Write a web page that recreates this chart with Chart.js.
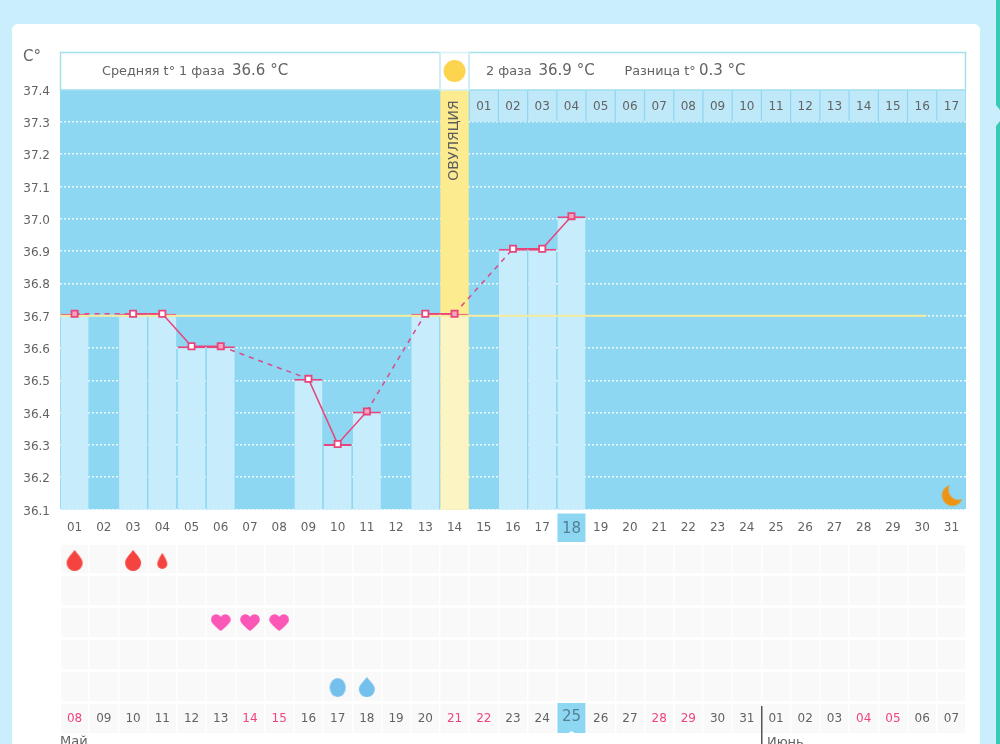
<!DOCTYPE html>
<html lang="ru">
<head>
<meta charset="utf-8">
<title>График БТ</title>
<script src="https://cdn.jsdelivr.net/npm/chart.js@4/dist/chart.umd.min.js"></script>
<style>
html, body { margin: 0; height: 744px; overflow: hidden; background: #cbeefc; }
#card { position: absolute; left: 12px; top: 24px; width: 968px; height: 740px; background: #fff; border-radius: 6px; }
#side { position: absolute; left: 996px; top: 0; width: 4px; height: 744px; background: #35cbb6;
  clip-path: polygon(0 0, 4px 0, 4px 110px, 0 105px, 0 126px, 4px 121px, 4px 744px, 0 744px); }
#tempChart { position: absolute; left: 0; top: 0; }
#marksChart { position: absolute; left: 0; top: 540px; }
</style>
</head>
<body>
<div id="card"></div>
<div id="side"></div>
<canvas id="tempChart" width="1000" height="545"></canvas>
<canvas id="marksChart" width="1000" height="204"></canvas>
<script>
// cycle days, chart 1
const cycleDays = ['01','02','03','04','05','06','07','08','09','10','11','12','13','14','15','16','17','18','19','20','21','22','23','24','25','26','27','28','29','30','31'];
const temps = [36.7,null,36.7,36.7,36.6,36.6,null,null,36.5,36.3,36.4,null,36.7,36.7,null,36.9,36.9,37.0,null,null,null,null,null,null,null,null,null,null,null,null,null];
const coverLineX = [-0.5, 29.15];
const coverLineTemp = 36.7;
const ovulationDay = '14';
const todayDay = '18';
const phaseDays = ['01','02','03','04','05','06','07','08','09','10','11','12','13','14','15','16','17'];
const yTicks = [36.1,36.2,36.3,36.4,36.5,36.6,36.7,36.8,36.9,37.0,37.1,37.2,37.3,37.4];
const softMarkerDays = ['01','06','11','14','18'];

// calendar dates and symptom rows, chart 2
const calendarDates = ['08','09','10','11','12','13','14','15','16','17','18','19','20','21','22','23','24','25','26','27','28','29','30','31','01','02','03','04','05','06','07'];
const weekendDates = ['08','14','15','21','22','28','29','04','05'];
const todayDate = '25';
const monthNames = ['Май','Июнь'];
const monthStarts = ['08','01'];
const symptomRows = ['bleeding','row2','sex','row4','mucus'];
const bigBleedDates = ['08','10'];
const smallBleedDates = ['11'];
const sexDates = ['13','14','15'];
const blobDates = ['17'];
const mucusDates = ['18'];

const BLUE = '#8dd7f3', PALE = '#c7ecfb', PINK = '#e8457c', TEXT = '#636363', TODAY = '#557f93';
const FONT = '"DejaVu Sans", sans-serif';

Chart.defaults.font.family = FONT;
Chart.defaults.animation = false;
Chart.defaults.responsive = false;
Chart.defaults.plugins.legend.display = false;
Chart.defaults.plugins.tooltip.enabled = false;

function txt(c, s, x, y, size, color, align) {
  c.font = size + 'px ' + FONT;
  c.fillStyle = color || TEXT;
  c.textAlign = align || 'left';
  c.textBaseline = 'middle';
  c.fillText(s, x, y);
}

function makeIcon(w, h, color, draw) {
  const cv = document.createElement('canvas');
  cv.width = w;
  cv.height = h;
  const c = cv.getContext('2d');
  c.fillStyle = color;
  c.beginPath();
  draw(c);
  c.fill();
  return cv;
}

function dropPath(c, cx, t, b, r) {
  const m = t + (b - t) * 0.25;
  c.moveTo(cx, t);
  c.bezierCurveTo(cx + r * 0.5, m, cx + r, b - r * 1.5, cx + r, b - r);
  c.arc(cx, b - r, r, 0, Math.PI);
  c.bezierCurveTo(cx - r, b - r * 1.5, cx - r * 0.5, m, cx, t);
}

const bigDrop = makeIcon(18, 24, '#f5433f', c => dropPath(c, 9, 3, 24, 8));
const smallDrop = makeIcon(12, 20, '#f5433f', c => dropPath(c, 6, 4, 20, 5));
const blueDrop = makeIcon(18, 22, '#74c0ec', c => dropPath(c, 9, 2, 22, 8));
const blueBlob = makeIcon(18, 22, '#74c0ec', c => c.ellipse(9, 12.5, 8, 9.5, 0, 0, Math.PI * 2));
const heart = makeIcon(20, 17, '#fa57b6', c => {
  c.arc(5.4, 5.4, 5.2, 0, Math.PI * 2);
  c.fill();
  c.beginPath();
  c.arc(14.6, 5.4, 5.2, 0, Math.PI * 2);
  c.fill();
  c.beginPath();
  c.moveTo(0.7, 7.6);
  c.quadraticCurveTo(3.5, 12.5, 10, 17);
  c.quadraticCurveTo(16.5, 12.5, 19.3, 7.6);
  c.lineTo(10, 4);
  c.closePath();
});
const moon = (() => {
  const cv = makeIcon(24, 24, '#ef9412', c => c.arc(11, 12, 10.5, 0, Math.PI * 2));
  const c = cv.getContext('2d');
  c.globalCompositeOperation = 'destination-out';
  c.beginPath();
  c.arc(17, 6.5, 10, 0, Math.PI * 2);
  c.fill();
  return cv;
})();

// page furniture around the plot: background, header boxes, today box
const tempFrame = {
  id: 'tempFrame',
  beforeDraw(chart) {
    const c = chart.ctx, a = chart.chartArea, x = chart.scales.x;
    c.save();
    c.fillStyle = BLUE;
    c.fillRect(a.left, a.top, a.width, a.height);
    const tx = x.getPixelForValue(cycleDays.indexOf(todayDay));
    c.fillRect(tx - 14, a.bottom + 4, 28, 30);
    c.restore();
  },
  afterDatasetsDraw(chart) {
    const c = chart.ctx, a = chart.chartArea, x = chart.scales.x, y = chart.scales.y;
    const ox = x.getPixelForValue(cycleDays.indexOf(ovulationDay));
    c.save();
    c.fillStyle = '#fff';
    c.fillRect(a.left, 52, a.width, a.top - 52);
    c.strokeStyle = '#a3e0ea';
    c.lineWidth = 1.5;
    c.strokeRect(a.left + .5, 52.5, ox - 15 - a.left, a.top - 52);
    c.strokeRect(ox + 14.5, 52.5, a.right - ox - 15, a.top - 52);
    c.strokeStyle = '#d6f1f8';
    c.strokeRect(ox - 14.5, 52.5, 29, a.top - 52);
    c.fillStyle = '#fdd44e';
    c.beginPath();
    c.arc(ox, 71, 11, 0, Math.PI * 2);
    c.fill();
    txt(c, 'C°', 23, 57, 15);
    txt(c, 'Средняя t° 1 фаза', 102, 72, 12.8);
    txt(c, '36.6 °C', 232, 71, 15);
    txt(c, '2 фаза', 486, 72, 12.8);
    txt(c, '36.9 °C', 538.5, 71, 15);
    txt(c, 'Разница t°', 624.5, 72, 12.8);
    txt(c, '0.3 °C', 699, 71, 15);
    const stripY = (y.getPixelForValue(37.3) + a.top) / 2;
    phaseDays.forEach((d, i) => {
      txt(c, d, x.getPixelForValue(i + cycleDays.indexOf(ovulationDay) + 1), stripY + 1, 12, TEXT, 'center');
    });
    c.translate(ox, 140.5);
    c.rotate(-Math.PI / 2);
    txt(c, 'ОВУЛЯЦИЯ', 0, 0, 14, '#5d5d5d', 'center');
    c.restore();
    // moon in the last day column
    const mx = x.getPixelForValue(cycleDays.length - 1), my = y.getPixelForValue(36.15);
    c.drawImage(moon, mx - 10, my - 10);
  }
};

const dashed = (s, v) => (s.p0.skip || s.p1.skip ? v : undefined);

new Chart(document.getElementById('tempChart'), {
  data: {
    labels: cycleDays,
    datasets: [
      { // temperature line
        type: 'line', yAxisID: 'yTemp', order: 1, data: temps, spanGaps: true,
        borderColor: PINK, borderWidth: 1.5, tension: 0,
        pointStyle: 'rect', pointRadius: 4.4,
        pointBackgroundColor: cycleDays.map(d => softMarkerDays.includes(d) ? '#f5a6bd' : '#fff'),
        pointBorderColor: PINK, pointBorderWidth: 1.8,
        segment: { borderDash: s => dashed(s, [5, 5]), borderColor: s => dashed(s, '#d94c88') }
      },
      { // cover line
        type: 'line', xAxisID: 'xLine', order: 2, borderColor: '#f5eb9c', borderWidth: 2, pointRadius: 0,
        data: coverLineX.map(v => ({ x: v, y: coverLineTemp }))
      },
      { // day bars
        type: 'bar', yAxisID: 'yTemp', order: 3, grouped: false, data: temps,
        backgroundColor: cycleDays.map(d => d === ovulationDay ? '#fdf4c3' : PALE),
        borderColor: PINK, borderWidth: { top: 2, left: 0, right: 0, bottom: 0 }, borderSkipped: false,
        categoryPercentage: 1, barPercentage: 0.96
      },
      { // ovulation column
        type: 'bar', order: 4, grouped: false,
        data: cycleDays.map(d => d === ovulationDay ? yTicks[yTicks.length - 1] : null),
        backgroundColor: '#fdeb90', categoryPercentage: 1, barPercentage: 0.97
      },
      { // second phase day strip
        type: 'bar', order: 5, grouped: false,
        data: cycleDays.map((d, i) => i > cycleDays.indexOf(ovulationDay) ? [37.3, 37.4] : null),
        backgroundColor: '#bfe8f9', categoryPercentage: 1, barPercentage: 0.96
      }
    ]
  },
  options: {
    layout: { padding: { top: 89.5, right: 34, left: 0, bottom: 0 } },
    scales: {
      x: {
        afterFit: s => { s.height = 35.5; },
        grid: { display: false }, border: { display: false },
        ticks: {
          autoSkip: false, maxRotation: 0, padding: 3,
          color: c => c.index === cycleDays.indexOf(todayDay) ? TODAY : TEXT,
          font: c => ({ size: c.index === cycleDays.indexOf(todayDay) ? 15 : 12 })
        }
      },
      xLine: { type: 'linear', display: false, min: -0.5, max: cycleDays.length - 0.5 },
      y: {
        min: 36.1, max: 37.4,
        afterFit: s => { s.width = 60; },
        afterBuildTicks: s => { s.ticks = yTicks.map(v => ({ value: v })); },
        border: { display: false, dash: [2, 2] },
        grid: {
          drawTicks: false, lineWidth: 1.5,
          color: c => c.tick && c.tick.value === 37.4 ? 'transparent' : 'rgba(255,255,255,.85)'
        },
        ticks: { color: TEXT, font: { size: 12 }, padding: 10, labelOffset: 2, callback: v => v.toFixed(1) }
      },
      // markers sit about 2px higher than the grid and on a slightly larger step
      yTemp: { display: false, min: 36.0985, max: 37.3892 }
    }
  },
  plugins: [tempFrame]
});

// symptom grid with calendar dates underneath
const marksFrame = {
  id: 'marksFrame',
  beforeDraw(chart) {
    const c = chart.ctx, a = chart.chartArea;
    c.save();
    c.fillStyle = '#f9f9f9';
    c.fillRect(a.left + 1, a.top, a.width - 2, 193 - a.top);
    c.restore();
  },
  beforeDatasetsDraw(chart) {
    const c = chart.ctx, a = chart.chartArea, x = chart.scales.x;
    const tx = x.getPixelForValue(calendarDates.indexOf(todayDate));
    c.save();
    c.fillStyle = BLUE;
    c.fillRect(tx - 14, a.bottom + 1, 28, 30);
    txt(c, todayDate, tx, a.bottom + 15, 15, TODAY, 'center');
    c.fillStyle = '#fff';
    c.beginPath();
    c.moveTo(tx - 3, a.bottom + 31);
    c.lineTo(tx, a.bottom + 29);
    c.lineTo(tx + 3, a.bottom + 31);
    c.fill();
    c.restore();
  },
  afterDraw(chart) {
    const c = chart.ctx, a = chart.chartArea, x = chart.scales.x;
    const w = x.width / calendarDates.length;
    c.save();
    const split = x.getPixelForValue(calendarDates.lastIndexOf(monthStarts[1])) - w / 2;
    c.fillStyle = '#555';
    c.fillRect(Math.round(split), a.bottom + 4, 1.5, 40);
    txt(c, monthNames[0], x.getPixelForValue(calendarDates.indexOf(monthStarts[0])) - w / 2, 202, 13);
    txt(c, monthNames[1], split + 5.5, 203, 13);
    c.restore();
  }
};

const markPoints = (dates, row) => dates.map(d => ({ x: d, y: row }));
const markSet = (dates, row, icon) => ({ data: markPoints(dates, row), pointStyle: icon, pointRadius: 10, clip: false });

new Chart(document.getElementById('marksChart'), {
  type: 'scatter',
  data: {
    datasets: [
      markSet(bigBleedDates, symptomRows[0], bigDrop),
      markSet(smallBleedDates, symptomRows[0], smallDrop),
      markSet(sexDates, symptomRows[2], heart),
      markSet(blobDates, symptomRows[4], blueBlob),
      markSet(mucusDates, symptomRows[4], blueDrop)
    ]
  },
  options: {
    layout: { autoPadding: false, padding: { top: 3, right: 34, left: 60, bottom: 0 } },
    scales: {
      x: {
        type: 'category', labels: calendarDates, offset: true,
        afterFit: s => { s.height = 42; },
        border: { display: false },
        grid: { offset: true, color: '#fff', lineWidth: 1.5, tickLength: 31, tickColor: '#fff', tickWidth: 1.5 },
        ticks: {
          autoSkip: false, maxRotation: 0, padding: -21,
          font: { size: 12 },
          callback(v) { return v === calendarDates.indexOf(todayDate) ? '' : calendarDates[v]; },
          color: c => weekendDates.includes(calendarDates[c.index]) ? '#f0437e' : TEXT
        }
      },
      y: {
        type: 'category', labels: symptomRows, offset: true, display: true,
        afterFit: s => { s.width = 0; },
        border: { display: false },
        grid: { offset: true, color: '#fff', lineWidth: 3, drawTicks: false },
        ticks: { display: false }
      }
    }
  },
  plugins: [marksFrame]
});
</script>
</body>
</html>
